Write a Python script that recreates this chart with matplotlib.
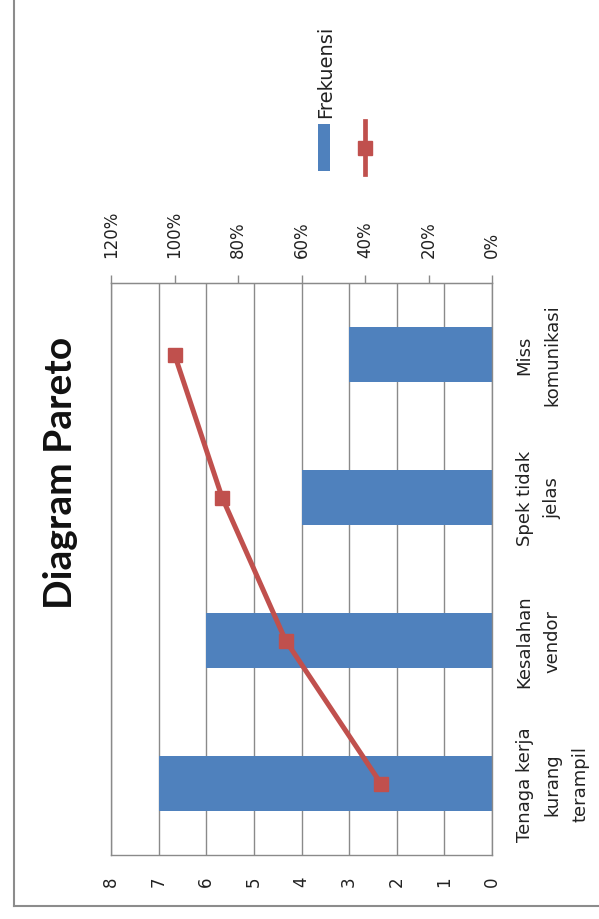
import numpy as np
import matplotlib
matplotlib.use("Agg")
import matplotlib.pyplot as plt
from matplotlib.lines import Line2D
from matplotlib.patches import Rectangle

# Pareto data
categories = ["Tenaga kerja\nkurang\nterampil", "Kesalahan\nvendor",
              "Spek tidak\njelas", "Miss\nkomunikasi"]
frekuensi = [7, 6, 4, 3]
freq_ticks = [0, 1, 2, 3, 4, 5, 6, 7, 8]
pct_ticks = [0, 20, 40, 60, 80, 100, 120]
title = "Diagram Pareto"
legend_label = "Frekuensi"

cumulative_pct = np.cumsum(frekuensi) / np.sum(frekuensi) * 100

BLUE = "#4F81BD"
RED = "#C0504D"
GRID = "#8a8a8a"
W, H = 599, 920

fig = plt.figure(figsize=(W / 100, H / 100), dpi=100)
fig.patch.set_facecolor("white")


def fx(px):
    return px / W


def fy(py):
    return 1 - py / H


left, right, top, bottom = 111, 492, 284, 856
ax = fig.add_axes([fx(left), fy(bottom), (right - left) / W, (bottom - top) / H])

pos = np.arange(len(categories))
ax.barh(pos, frekuensi, height=0.39, color=BLUE, zorder=2)
ax.set_xlim(8, 0)
ax.set_ylim(-0.5, len(categories) - 0.5)
ax.set_xticks(freq_ticks)
ax.set_xticklabels([str(t) for t in freq_ticks], rotation=90)
ax.tick_params(axis="x", length=0, pad=15, labelsize=12, labelcolor="#222222")
ax.grid(axis="x", color=GRID, linewidth=1.0, zorder=0)
ax.set_axisbelow(True)

ax.yaxis.tick_right()
ax.set_yticks(pos)
ax.set_yticklabels(categories, rotation=90, ha="left", va="center",
                   multialignment="center", linespacing=1.7)
ax.tick_params(axis="y", length=0, pad=17, labelsize=13, labelcolor="#222222")
for s in ax.spines.values():
    s.set_color(GRID)
    s.set_linewidth(1.0)

# Cumulative percentage on the secondary (top) axis
ax2 = ax.twiny()
ax2.set_xlim(120, 0)
ax2.plot(cumulative_pct, pos, color=RED, linewidth=3.6, marker="s",
         markersize=10.5, markerfacecolor=RED, markeredgecolor=RED, zorder=3)
ax2.set_xticks(pct_ticks)
ax2.set_xticklabels([f"{t}%" for t in pct_ticks], rotation=90)
ax2.tick_params(axis="x", direction="out", length=6, width=1.0, color=GRID,
                pad=13, labelsize=12, labelcolor="#222222")
for name, s in ax2.spines.items():
    s.set_visible(name == "top")
    s.set_color(GRID)

# Title
fig.text(fx(60), fy(473), title, rotation=90, ha="center", va="center",
         fontsize=28, fontweight="bold", family="Lato", color="#111111")

# Legend (drawn upright to follow the rotated layout)
fig.patches.append(Rectangle((fx(318), fy(172)), 12 / W, 47 / H,
                             transform=fig.transFigure, facecolor=BLUE,
                             edgecolor="none"))
fig.add_artist(Line2D([fx(365), fx(365)], [fy(175), fy(122)],
                      transform=fig.transFigure, color=RED, linewidth=3.4))
fig.add_artist(Line2D([fx(365)], [fy(148.5)], transform=fig.transFigure,
                      marker="s", markersize=10.5, color=RED, linestyle="none"))
fig.text(fx(326), fy(118), legend_label, rotation=90, ha="center", va="bottom",
         fontsize=14, color="#222222")

# Chart area border
fig.add_artist(Line2D([fx(14), fx(14)], [fy(907), 1.02],
                      transform=fig.transFigure, color="#8c8c8c", linewidth=1.5))
fig.add_artist(Line2D([fx(14), 1.02], [fy(907), fy(907)],
                      transform=fig.transFigure, color="#8c8c8c", linewidth=1.5))

fig.savefig("out.png", dpi=100, facecolor="white")
